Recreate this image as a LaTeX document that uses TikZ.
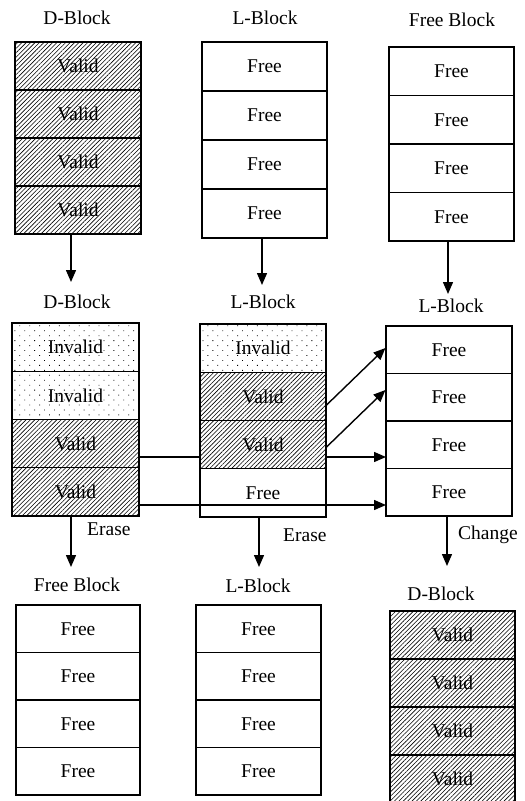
\documentclass[tikz,border=0pt]{standalone}
\usepackage{fontspec}
\setmainfont{Liberation Serif}
\usetikzlibrary{arrows.meta,patterns.meta}

\tikzset{
  cell/.style={draw, line width=1.1pt, inner sep=0pt, minimum height=#1,
    font=\fontsize{19.5}{22}\selectfont},
  cell/.default=48pt,
  freecell/.style={cell=#1},
  freecell/.default=48pt,
  validcell/.style={cell=#1, preaction={fill=white},
    pattern={Lines[angle=45,distance=3.1pt,line width=0.6pt]}},
  validcell/.default=48pt,
  invalidcell/.style={cell=#1, preaction={fill=white},
    pattern={Dots[angle=45,distance=7pt,radius=0.6pt]}},
  invalidcell/.default=48pt,
  blocklabel/.style={font=\fontsize{19.5}{22}\selectfont, inner sep=0pt},
  steplabel/.style={font=\fontsize{19.5}{22}\selectfont, inner sep=0pt, anchor=west},
  arr/.style={line width=1.4pt, -{Triangle[length=12pt,width=10pt]}},
}

\begin{document}
\begin{tikzpicture}[x=1pt, y=-1pt]
\useasboundingbox (0,0) rectangle (525,801);
\clip (0,0) rectangle (525,801);

% ---------- connectors drawn first so that filled cells cover them ----------
\coordinate (h1s) at (139,457);
\coordinate (h1e) at (386,457);
\coordinate (h2s) at (139,505);
\coordinate (h2e) at (386,505);
\draw[arr] (h1s) -- (h1e);
\draw[arr] (h2s) -- (h2e);

% ---------- top row ----------
\node[blocklabel] (tl1) at (77,18) {D-Block};
\foreach \i/\y in {a/66,b/114,c/162,d/210}
  \node[validcell, minimum width=126pt] (t1\i) at (78,\y) {Valid};

\node[blocklabel] (tl2) at (265,18) {L-Block};
\foreach \i/\y in {a/66.5,b/115.5,c/164.5,d/213.5}
  \node[freecell=49pt, minimum width=125pt] (t2\i) at (264.5,\y) {Free};

\node[blocklabel] (tl3) at (452,20) {Free Block};
\foreach \i/\y in {a/71.25,b/119.75,c/168.25,d/216.75}
  \node[freecell=48.5pt, minimum width=125pt] (t3\i) at (451.5,\y) {Free};

% ---------- middle row ----------
\node[blocklabel] (ml1) at (77,302) {D-Block};
\node[invalidcell=48.25pt, minimum width=127pt] (m1a) at (75.5,347.1) {Invalid};
\node[invalidcell=48.25pt, minimum width=127pt] (m1b) at (75.5,395.4) {Invalid};
\node[validcell=48.25pt, minimum width=127pt] (m1c) at (75.5,443.6) {Valid};
\node[validcell=48.25pt, minimum width=127pt] (m1d) at (75.5,491.9) {Valid};

\node[blocklabel] (ml2) at (263,302) {L-Block};
\node[invalidcell=48.25pt, minimum width=126pt] (m2a) at (263,348.1) {Invalid};
\node[validcell=48.25pt, minimum width=126pt] (m2b) at (263,396.4) {Valid};
\node[validcell=48.25pt, minimum width=126pt] (m2c) at (263,444.6) {Valid};
\node[freecell=48.25pt, minimum width=126pt] (m2d) at (263,492.9) {Free};

\node[blocklabel] (ml3) at (451,306) {L-Block};
\foreach \i/\y in {a/349.75,b/397.25,c/444.75,d/492.25}
  \node[freecell=47.5pt, minimum width=126pt] (m3\i) at (449,\y) {Free};

% ---------- bottom row ----------
\node[blocklabel] (bl1) at (77,585) {Free Block};
\foreach \i/\y in {a/628.75,b/676.25,c/723.75,d/771.25}
  \node[freecell=47.5pt, minimum width=124pt] (b1\i) at (78,\y) {Free};

\node[blocklabel] (bl2) at (258,586) {L-Block};
\foreach \i/\y in {a/628.75,b/676.25,c/723.75,d/771.25}
  \node[freecell=47.5pt, minimum width=125pt] (b2\i) at (258.5,\y) {Free};

\node[blocklabel] (bl3) at (441,594) {D-Block};
\foreach \i/\y in {a/635,b/683,c/731,d/779}
  \node[validcell=48pt, minimum width=125pt] (b3\i) at (452.5,\y) {Valid};

% ---------- downward arrows ----------
\coordinate (d1) at (71,282);
\coordinate (d2) at (262,285);
\coordinate (d3) at (448,294);
\draw[arr] (t1d.south -| d1) -- (d1);
\draw[arr] (t2d.south -| d2) -- (d2);
\draw[arr] (t3d.south -| d3) -- (d3);

\coordinate (e1) at (71,567);
\coordinate (e2) at (259,567);
\coordinate (e3) at (447,566);
\draw[arr] (m1d.south -| e1) -- (e1);
\draw[arr] (m2d.south -| e2) -- (e2);
\draw[arr] (m3d.south -| e3) -- (e3);

\node[steplabel] (er1) at (87,529) {Erase};
\node[steplabel] (er2) at (283,535) {Erase};
\node[steplabel] (ch3) at (458,535) {Change};

% ---------- diagonal moves of valid pages ----------
\draw[arr] ([yshift=-8.6pt]m2b.east) -- ([yshift=1.75pt]m3a.west);
\draw[arr] ([yshift=-2.4pt]m2c.east) -- ([yshift=7.25pt]m3b.west);

\end{tikzpicture}
\end{document}
